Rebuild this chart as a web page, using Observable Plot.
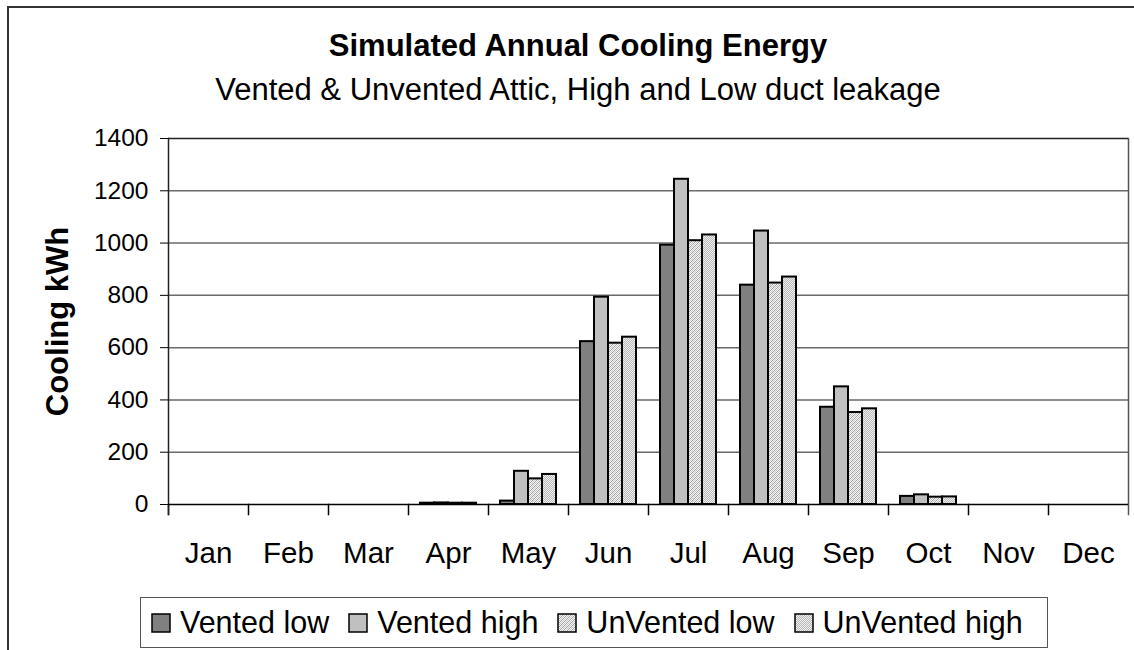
<!DOCTYPE html>
<html>
<head>
<meta charset="utf-8">
<script src="https://cdn.jsdelivr.net/npm/d3@7"></script>
<script src="https://cdn.jsdelivr.net/npm/@observablehq/plot@0.6"></script>
<style>
  html, body { margin: 0; padding: 0; background: #fff; overflow: hidden; }
  body { font-family: "Liberation Sans", Arial, sans-serif; color: #000; }
  #wrap { position: relative; width: 1134px; height: 650px; overflow: hidden; }
  #outer { position: absolute; left: 7px; top: 6px; width: 1160px; height: 700px; border: 2px solid #333; pointer-events: none; }
  #header { box-sizing: border-box; width: 1134px; height: 110px; padding-top: 28px; padding-left: 22px; text-align: center; }
  #title { font-size: 31px; font-weight: bold; line-height: 36px; }
  #subtitle { font-size: 31px; line-height: 36px; margin-top: 8px; }
  #legend { box-sizing: border-box; margin-top: 17px; margin-left: 140px; width: 908px; height: 51px;
            border: 1.5px solid #555; display: flex; align-items: center; padding-left: 10px; font-size: 30.5px; white-space: nowrap; }
  .item { display: flex; align-items: center; margin-right: 19px; }
  .item svg { margin-right: 9px; display: block; }
</style>
</head>
<body>
<svg width="0" height="0" style="position:absolute">
  <defs>
    <pattern id="hatchLow" patternUnits="userSpaceOnUse" width="4" height="4">
      <rect width="4" height="4" fill="#f4f4f4"></rect>
      <rect x="0" y="3" width="1" height="1" fill="#a0a0a0" shape-rendering="crispEdges"></rect>
      <rect x="1" y="2" width="1" height="1" fill="#a0a0a0" shape-rendering="crispEdges"></rect>
      <rect x="2" y="1" width="1" height="1" fill="#a0a0a0" shape-rendering="crispEdges"></rect>
      <rect x="3" y="0" width="1" height="1" fill="#a0a0a0" shape-rendering="crispEdges"></rect>
      <rect x="2" y="3" width="1" height="1" fill="#c8c8c8" shape-rendering="crispEdges"></rect>
      <rect x="3" y="2" width="1" height="1" fill="#c8c8c8" shape-rendering="crispEdges"></rect>
      <rect x="0" y="1" width="1" height="1" fill="#c8c8c8" shape-rendering="crispEdges"></rect>
      <rect x="1" y="0" width="1" height="1" fill="#c8c8c8" shape-rendering="crispEdges"></rect>
    </pattern>
    <pattern id="hatchHigh" patternUnits="userSpaceOnUse" width="2" height="2">
      <rect width="2" height="2" fill="#f0f0f0"></rect>
      <rect x="0" y="0" width="1" height="1" fill="#b8b8b8" shape-rendering="crispEdges"></rect>
      <rect x="1" y="1" width="1" height="1" fill="#b8b8b8" shape-rendering="crispEdges"></rect>
    </pattern>
  </defs>
</svg>
<div id="wrap">
  <div id="outer"></div>
  <div id="header">
    <div id="title">Simulated Annual Cooling Energy</div>
    <div id="subtitle">Vented &amp; Unvented Attic, High and Low duct leakage</div>
  </div>
  <div id="chart"></div>
  <div id="legend"></div>
</div>
<script>
// ---- data ----
const months = ["Jan","Feb","Mar","Apr","May","Jun","Jul","Aug","Sep","Oct","Nov","Dec"];
const seriesNames = ["Vented low","Vented high","UnVented low","UnVented high"];
const ventedLow    = [0,0,0,5,13,623,992,839,372,31,0,0];
const ventedHigh   = [0,0,0,6,127,793,1244,1046,450,37,0,0];
const unventedLow  = [0,0,0,5,98,617,1009,847,352,28,0,0];
const unventedHigh = [0,0,0,5,115,640,1031,870,366,29,0,0];
const yTicks = [0,200,400,600,800,1000,1200,1400];
const seriesFills = ["#808080","#c0c0c0","url(#hatchLow)","url(#hatchHigh)"];

const seriesValues = [ventedLow, ventedHigh, unventedLow, unventedHigh];
const rows = [];
months.forEach((m, i) => {
  seriesNames.forEach((s, j) => rows.push({month: m, series: s, value: seriesValues[j][i]}));
});

const font = '"Liberation Sans", Arial, sans-serif';

const chart = Plot.plot({
  width: 1134,
  height: 470,
  marginTop: 28,
  marginBottom: 76,
  marginLeft: 165,
  marginRight: 4,
  style: {fontFamily: font, background: "transparent", color: "#000", overflow: "visible"},
  fx: {domain: months, padding: 0, label: null},
  x: {domain: seriesNames, paddingInner: 0, paddingOuter: 0.75, axis: null},
  y: {domain: [0, 1400], nice: false, label: null},
  color: {type: "ordinal", domain: seriesNames, range: seriesFills},
  marks: [
    Plot.ruleY(yTicks.filter(t => t > 0 && t < 1400), {stroke: "#6a6a6a", strokeWidth: 1.5}),
    Plot.ruleY(yTicks.filter(t => t === 1400), {stroke: "#222", strokeWidth: 1.5}),
    Plot.frame({anchor: "left", insetTop: 366, insetBottom: -10, stroke: "#000", strokeWidth: 1.5}),
    Plot.frame({anchor: "left", fx: ["Jan"], insetBottom: -10, stroke: "#222", strokeWidth: 1.5}),
    Plot.frame({anchor: "right", fx: ["Dec"], insetBottom: -10, stroke: "#555", strokeWidth: 1.5}),
    Plot.barY(rows, {
      filter: d => d.value > 0,
      fx: "month", x: "series", y: "value", fill: "series",
      stroke: "#000", strokeWidth: 2
    }),
    Plot.ruleY([0], {stroke: "#000", strokeWidth: 1.5}),
    Plot.axisY({ticks: yTicks, tickFormat: d => String(d), tickSize: 8, tickPadding: 12, fontSize: 24.5, label: null, stroke: "#000"}),
    Plot.axisY({ticks: [], tickSize: 0, label: "Cooling kWh", labelAnchor: "center", labelArrow: "none",
                labelOffset: 123, fontSize: 31, fontWeight: "bold"}),
    Plot.axisFx({anchor: "bottom", tickSize: 0, tickPadding: 38, fontSize: 29.5, label: null})
  ]
});
chart.style.display = "block";
document.getElementById("chart").appendChild(chart);

// ---- legend ----
const legend = document.getElementById("legend");
seriesNames.forEach((s, j) => {
  const item = document.createElement("div");
  item.className = "item";
  item.innerHTML = `<svg width="20" height="20"><rect x="1" y="1" width="18" height="18" fill="${seriesFills[j]}" stroke="#000" stroke-width="1.5"></rect></svg><span>${s}</span>`;
  legend.appendChild(item);
});
</script>
</body>
</html>
